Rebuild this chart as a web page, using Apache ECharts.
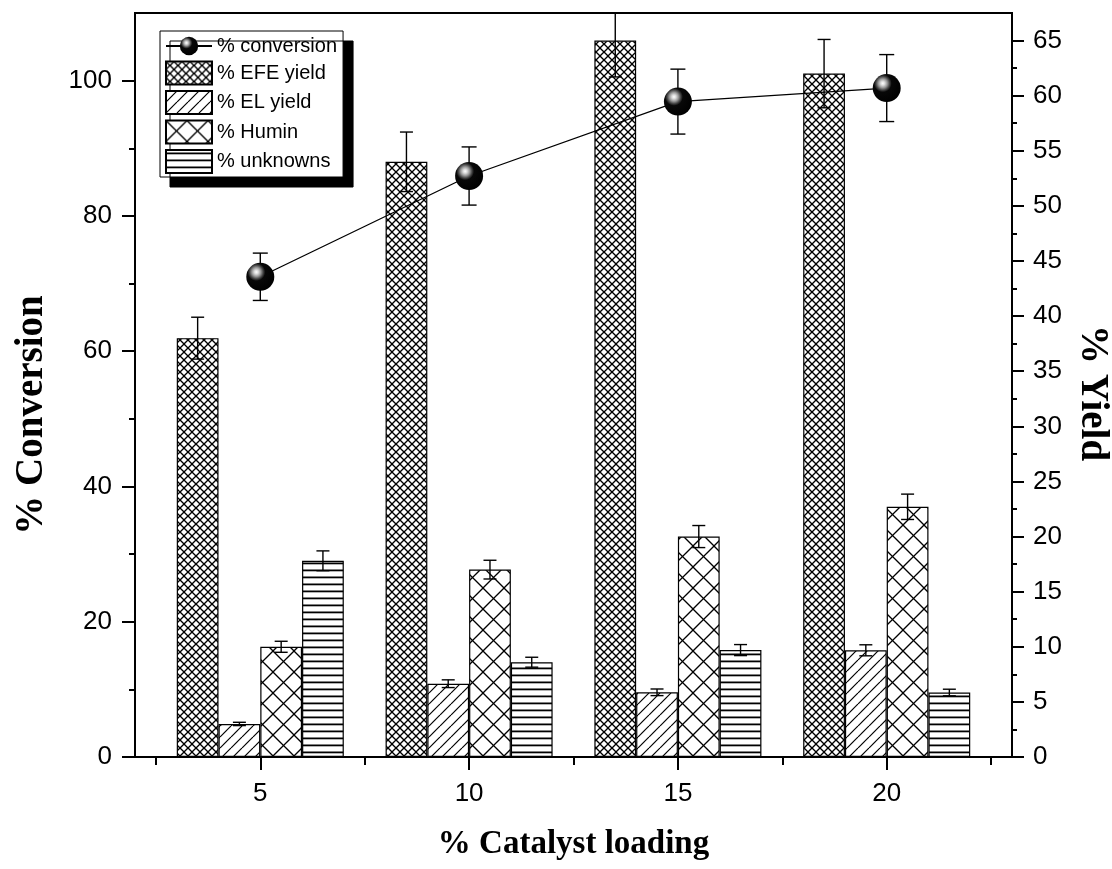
<!DOCTYPE html>
<html>
<head>
<meta charset="utf-8">
<script src="https://cdn.jsdelivr.net/npm/echarts@6/dist/echarts.min.js"></script>
<style>
  html, body { margin: 0; padding: 0; background: #fff; }
  #chart { width: 1112px; height: 869px; }
</style>
</head>
<body>
<div id="chart"></div>
<script>
// data
const loading = [5, 10, 15, 20];
const conversion = [71.0, 85.9, 96.9, 98.9];
const conversionErr = [3.5, 4.3, 4.8, 4.95];
const efeYield = [38.0, 54.0, 65.0, 62.0];
const efeErr = [1.9, 2.7, 3.3, 3.1];
const elYield = [3.0, 6.65, 5.87, 9.68];
const elErr = [0.15, 0.35, 0.3, 0.5];
const huminYield = [10.0, 17.0, 20.0, 22.7];
const huminErr = [0.5, 0.85, 1.0, 1.15];
const unknownYield = [17.8, 8.6, 9.7, 5.85];
const unknownErr = [0.9, 0.45, 0.5, 0.3];

// tick positions
const xTicks = [5, 10, 15, 20];
const xMinorTicks = [2.5, 7.5, 12.5, 17.5, 22.5];
const leftTicks = [0, 20, 40, 60, 80, 100];
const leftMinorTicks = [10, 30, 50, 70, 90];
const rightTicks = [0, 5, 10, 15, 20, 25, 30, 35, 40, 45, 50, 55, 60, 65];
const rightMinorTicks = [2.5, 7.5, 12.5, 17.5, 22.5, 27.5, 32.5, 37.5, 42.5, 47.5, 52.5, 57.5, 62.5];

const chart = echarts.init(document.getElementById('chart'));

const gridLeft = 135, gridRight = 100, gridTop = 13, gridBottom = 112;
const xMin = 2, xMax = 23;
const leftMax = 110, rightMax = 67.5;
const barWidth = (chart.getWidth() - gridLeft - gridRight) / (xMax - xMin);

// hatch fills
function makePattern(w, h, draw) {
  const c = document.createElement('canvas');
  c.width = w; c.height = h;
  const ctx = c.getContext('2d');
  ctx.fillStyle = '#fff';
  ctx.fillRect(0, 0, w, h);
  ctx.strokeStyle = '#000';
  ctx.fillStyle = '#000';
  draw(ctx, w, h);
  return { image: c, repeat: 'repeat' };
}
function slash(ctx, s) {
  for (let k = -1; k <= 1; k++) { ctx.beginPath(); ctx.moveTo(k * s, s); ctx.lineTo(k * s + s, 0); ctx.stroke(); }
}
function backslash(ctx, s) {
  for (let k = -1; k <= 1; k++) { ctx.beginPath(); ctx.moveTo(k * s, 0); ctx.lineTo(k * s + s, s); ctx.stroke(); }
}
const efeFill = makePattern(8, 8, (ctx, s) => { ctx.lineWidth = 1.3; slash(ctx, s); backslash(ctx, s); });
const elFill = makePattern(11, 11, (ctx, s) => { ctx.lineWidth = 1.2; slash(ctx, s); });
const huminFill = makePattern(21, 21, (ctx, s) => { ctx.lineWidth = 1.3; slash(ctx, s); backslash(ctx, s); });
const unknownFill = makePattern(4, 7, (ctx, w) => { ctx.fillRect(0, 2.5, w, 1.8); });

const sphere = new echarts.graphic.RadialGradient(0.36, 0.33, 0.72, [
  { offset: 0, color: '#ffffff' },
  { offset: 0.1, color: '#dcdcdc' },
  { offset: 0.22, color: '#999' },
  { offset: 0.34, color: '#444' },
  { offset: 0.44, color: '#080808' },
  { offset: 1, color: '#000' }
]);

function errorData(values, errs, slot) {
  return loading.map((x, i) => [x, values[i], errs[i], slot]);
}

function errorBars(capHalf) {
  return function (params, api) {
    const x = api.value(0), y = api.value(1), e = api.value(2), slot = api.value(3);
    const unit = api.size([1, 0])[0];
    const dx = (slot - 1.5) * unit;
    const top = api.coord([x, y + e]);
    const bot = api.coord([x, y - e]);
    const cx = top[0] + dx;
    const style = { stroke: '#000', lineWidth: 1.4 };
    return {
      type: 'group',
      children: [
        { type: 'line', shape: { x1: cx, y1: top[1], x2: cx, y2: bot[1] }, style },
        { type: 'line', shape: { x1: cx - capHalf, y1: top[1], x2: cx + capHalf, y2: top[1] }, style },
        { type: 'line', shape: { x1: cx - capHalf, y1: bot[1], x2: cx + capHalf, y2: bot[1] }, style }
      ]
    };
  };
}

const labelFont = { color: '#000', fontSize: 26, fontFamily: 'Liberation Sans, Arial, sans-serif' };
const titleFamily = 'Liberation Serif, Times New Roman, serif';
const axisLine = { show: true, lineStyle: { color: '#000', width: 2 } };
const tickLine = { color: '#000', width: 2 };

function minorAxis(position, max, ticks, len) {
  return {
    type: 'value',
    position: position,
    min: 0,
    max: max,
    axisLine: { show: false },
    axisTick: { show: true, length: len, customValues: ticks, lineStyle: tickLine },
    axisLabel: { show: false },
    splitLine: { show: false }
  };
}

function barSeries(name, values, fill) {
  return {
    name: name,
    type: 'bar',
    xAxisIndex: 0,
    yAxisIndex: 1,
    barWidth: barWidth,
    barGap: '0%',
    z: 1,
    itemStyle: { color: fill, borderColor: '#000', borderWidth: 1.2 },
    data: loading.map((x, i) => [x, values[i]])
  };
}

function errSeries(values, errs, slot, yIdx, cap) {
  return {
    type: 'custom',
    xAxisIndex: 0,
    yAxisIndex: yIdx,
    z: 2,
    clip: true,
    silent: true,
    renderItem: errorBars(cap),
    data: errorData(values, errs, slot)
  };
}

const option = {
  backgroundColor: '#fff',
  animation: false,
  grid: {
    left: gridLeft, right: gridRight, top: gridTop, bottom: gridBottom,
    show: true, borderColor: '#000', borderWidth: 2,
    outerBoundsMode: 'none'
  },
  legend: {
    orient: 'vertical',
    left: 160,
    top: 31,
    padding: [5, 6, 3, 5],
    itemWidth: 46,
    itemHeight: 23,
    itemGap: 4.5,
    backgroundColor: '#fff',
    borderColor: '#000',
    borderWidth: 1,
    borderRadius: 0,
    shadowColor: '#000',
    shadowBlur: 0,
    shadowOffsetX: 10,
    shadowOffsetY: 10,
    textStyle: { color: '#000', fontSize: 20, fontFamily: 'Liberation Sans, Arial, sans-serif' },
    data: [
      { name: '% conversion' },
      { name: '% EFE yield', icon: 'rect' },
      { name: '% EL yield', icon: 'rect' },
      { name: '% Humin', icon: 'rect' },
      { name: '% unknowns', icon: 'rect' }
    ]
  },
  xAxis: [
    {
      type: 'value',
      min: xMin,
      max: xMax,
      position: 'bottom',
      name: '% Catalyst loading',
      nameLocation: 'middle',
      nameGap: 71,
      nameTextStyle: { color: '#000', fontSize: 33, fontWeight: 'bold', fontFamily: titleFamily },
      axisLine: axisLine,
      axisTick: { show: true, length: 13, customValues: xTicks, lineStyle: tickLine },
      axisLabel: { ...labelFont, margin: 24, customValues: xTicks },
      splitLine: { show: false }
    },
    {
      type: 'value',
      min: xMin,
      max: xMax,
      position: 'bottom',
      axisLine: { show: false },
      axisTick: { show: true, length: 8, customValues: xMinorTicks, lineStyle: tickLine },
      axisLabel: { show: false },
      splitLine: { show: false }
    }
  ],
  yAxis: [
    {
      type: 'value',
      position: 'left',
      min: 0,
      max: leftMax,
      name: '% Conversion',
      nameLocation: 'middle',
      nameGap: 84,
      nameTextStyle: { color: '#000', fontSize: 39, fontWeight: 'bold', fontFamily: titleFamily, padding: [0, 60, 0, 0] },
      axisLine: axisLine,
      axisTick: { show: true, length: 13, customValues: leftTicks, lineStyle: tickLine },
      axisLabel: { ...labelFont, margin: 23, customValues: leftTicks },
      splitLine: { show: false }
    },
    {
      type: 'value',
      position: 'right',
      min: 0,
      max: rightMax,
      name: '% Yield',
      nameLocation: 'middle',
      nameRotate: -90,
      nameGap: 57,
      nameTextStyle: { color: '#000', fontSize: 39, fontWeight: 'bold', fontFamily: titleFamily, padding: [0, 0, 0, 16] },
      axisLine: axisLine,
      axisTick: { show: true, length: 12, customValues: rightTicks, lineStyle: tickLine },
      axisLabel: { ...labelFont, margin: 21, customValues: rightTicks },
      splitLine: { show: false }
    },
    minorAxis('left', leftMax, leftMinorTicks, 6),
    minorAxis('right', rightMax, rightMinorTicks, 5)
  ],
  series: [
    {
      name: '% conversion',
      type: 'line',
      xAxisIndex: 0,
      yAxisIndex: 0,
      z: 3,
      symbol: 'circle',
      symbolSize: 28,
      lineStyle: { color: '#000', width: 1.3 },
      itemStyle: { color: sphere, borderWidth: 0 },
      data: loading.map((x, i) => [x, conversion[i]])
    },
    barSeries('% EFE yield', efeYield, efeFill),
    barSeries('% EL yield', elYield, elFill),
    barSeries('% Humin', huminYield, huminFill),
    barSeries('% unknowns', unknownYield, unknownFill),
    errSeries(efeYield, efeErr, 0, 1, 6.5),
    errSeries(elYield, elErr, 1, 1, 6.5),
    errSeries(huminYield, huminErr, 2, 1, 6.5),
    errSeries(unknownYield, unknownErr, 3, 1, 6.5),
    errSeries(conversion, conversionErr, 1.5, 0, 7.5)
  ]
};

chart.setOption(option);
</script>
</body>
</html>
